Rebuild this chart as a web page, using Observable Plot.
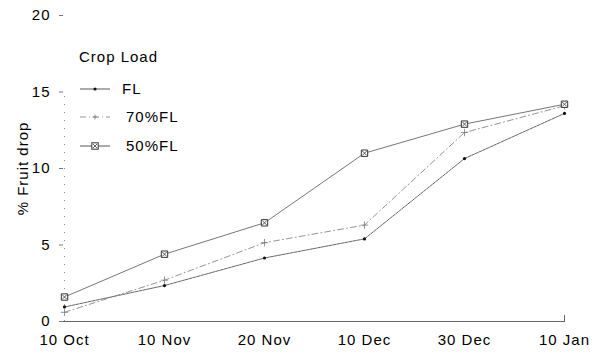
<!DOCTYPE html>
<html><head><meta charset="utf-8">
<script src="https://cdn.jsdelivr.net/npm/d3@7"></script>
<script src="https://cdn.jsdelivr.net/npm/@observablehq/plot@0.6"></script>
<style>body{margin:0;background:#fff} #chart{width:593px;height:355px}</style>
</head><body><div id="chart"></div>
<script>
const dates = ["10 Oct", "10 Nov", "20 Nov", "10 Dec", "30 Dec", "10 Jan"];
const seriesNames = ["FL", "70%FL", "50%FL"];
const flValues = [0.95, 2.35, 4.15, 5.4, 10.65, 13.6];
const fl70Values = [0.6, 2.7, 5.15, 6.3, 12.35, 14.1];
const fl50Values = [1.6, 4.4, 6.45, 11.0, 12.9, 14.2];
const yTicks = [0, 5, 10, 15, 20];
const legendTitle = "Crop Load";
const yLabel = "% Fruit drop";

const allValues = [flValues, fl70Values, fl50Values];
const data = [];
seriesNames.forEach((s, k) => dates.forEach((d, i) => data.push({date: d, value: allValues[k][i], series: s})));
const bySeries = s => data.filter(d => d.series === s);

const font = "'Liberation Sans', Arial, Helvetica, sans-serif";

const plot = Plot.plot({
  width: 593, height: 355,
  marginLeft: 63, marginRight: 28, marginTop: 15, marginBottom: 34,
  style: {fontFamily: font, fontSize: "15px", color: "#000", background: "#fff", letterSpacing: "1px"},
  x: {type: "point", domain: dates, padding: 0},
  y: {domain: [0, 20]},
  marks: [
    Plot.axisX({tickSize: 0, tickPadding: 13, fontSize: 15, label: null}),
    Plot.axisY({ticks: yTicks, tickSize: 4, tickPadding: 9, fontSize: 15, stroke: "#777",
      label: yLabel, labelAnchor: "center", labelArrow: "none", labelOffset: 46}),
    Plot.ruleX(["10 Oct"], {y1: 0, y2: 15, stroke: "#999", strokeDasharray: "1,7", strokeWidth: 1}),
    Plot.ruleY([0], {stroke: "#666", strokeWidth: 1}),
    Plot.ruleX(["10 Jan"], {y1: 0, y2: 0.4, stroke: "#666"}),
    Plot.line(bySeries("FL"), {x: "date", y: "value", stroke: "#555", strokeWidth: 0.9, strokeDasharray: "3,1"}),
    Plot.line(bySeries("70%FL"), {x: "date", y: "value", stroke: "#888", strokeWidth: 0.9, strokeDasharray: "6,3,1,3"}),
    Plot.line(bySeries("50%FL"), {x: "date", y: "value", stroke: "#666", strokeWidth: 0.9}),
    Plot.dot(bySeries("FL"), {x: "date", y: "value", r: 1.6, fill: "#111", stroke: "none"}),
    Plot.dot(bySeries("70%FL"), {x: "date", y: "value", symbol: "plus", r: 2.5, stroke: "#777", strokeWidth: 0.8}),
    Plot.dot(bySeries("50%FL"), {x: "date", y: "value", symbol: "square", r: 3.6, stroke: "#333", fill: "#fff", strokeWidth: 1}),
    Plot.dot(bySeries("50%FL"), {x: "date", y: "value", symbol: "times", r: 2.2, stroke: "#333", strokeWidth: 0.8})
  ]
});
document.getElementById("chart").appendChild(plot);

// in-plot legend
const svg = d3.select(plot);
const lg = svg.append("g").attr("font-family", font).attr("font-size", 15)
  .attr("letter-spacing", "1px").attr("text-anchor", "start");
lg.append("text").attr("x", 79).attr("y", 62).text(legendTitle);
const rows = [
  {name: "FL", y: 89, dash: null, stroke: "#444"},
  {name: "70%FL", y: 117, dash: "6,3,1,3", stroke: "#888"},
  {name: "50%FL", y: 146, dash: null, stroke: "#444"}
];
rows.forEach((r, k) => {
  lg.append("line").attr("x1", 80).attr("x2", 110).attr("y1", r.y).attr("y2", r.y)
    .attr("stroke", r.stroke).attr("stroke-width", 0.9).attr("stroke-dasharray", r.dash);
  const cx = 95;
  if (k === 0) lg.append("circle").attr("cx", cx).attr("cy", r.y).attr("r", 1.6).attr("fill", "#111");
  if (k === 1) lg.append("path").attr("d", `M${cx-2.5},${r.y}h5M${cx},${r.y-2.5}v5`).attr("stroke", "#777").attr("stroke-width", 0.8);
  if (k === 2) {
    lg.append("rect").attr("x", cx - 3.2).attr("y", r.y - 3.2).attr("width", 6.4).attr("height", 6.4).attr("fill", "#fff").attr("stroke", "#333");
    lg.append("path").attr("d", `M${cx-2},${r.y-2}l4,4M${cx+2},${r.y-2}l-4,4`).attr("stroke", "#333").attr("stroke-width", 0.8);
  }
  lg.append("text").attr("x", k === 0 ? 122 : 126).attr("y", r.y).attr("dy", "0.35em").text(r.name);
});
</script>
</body></html>
